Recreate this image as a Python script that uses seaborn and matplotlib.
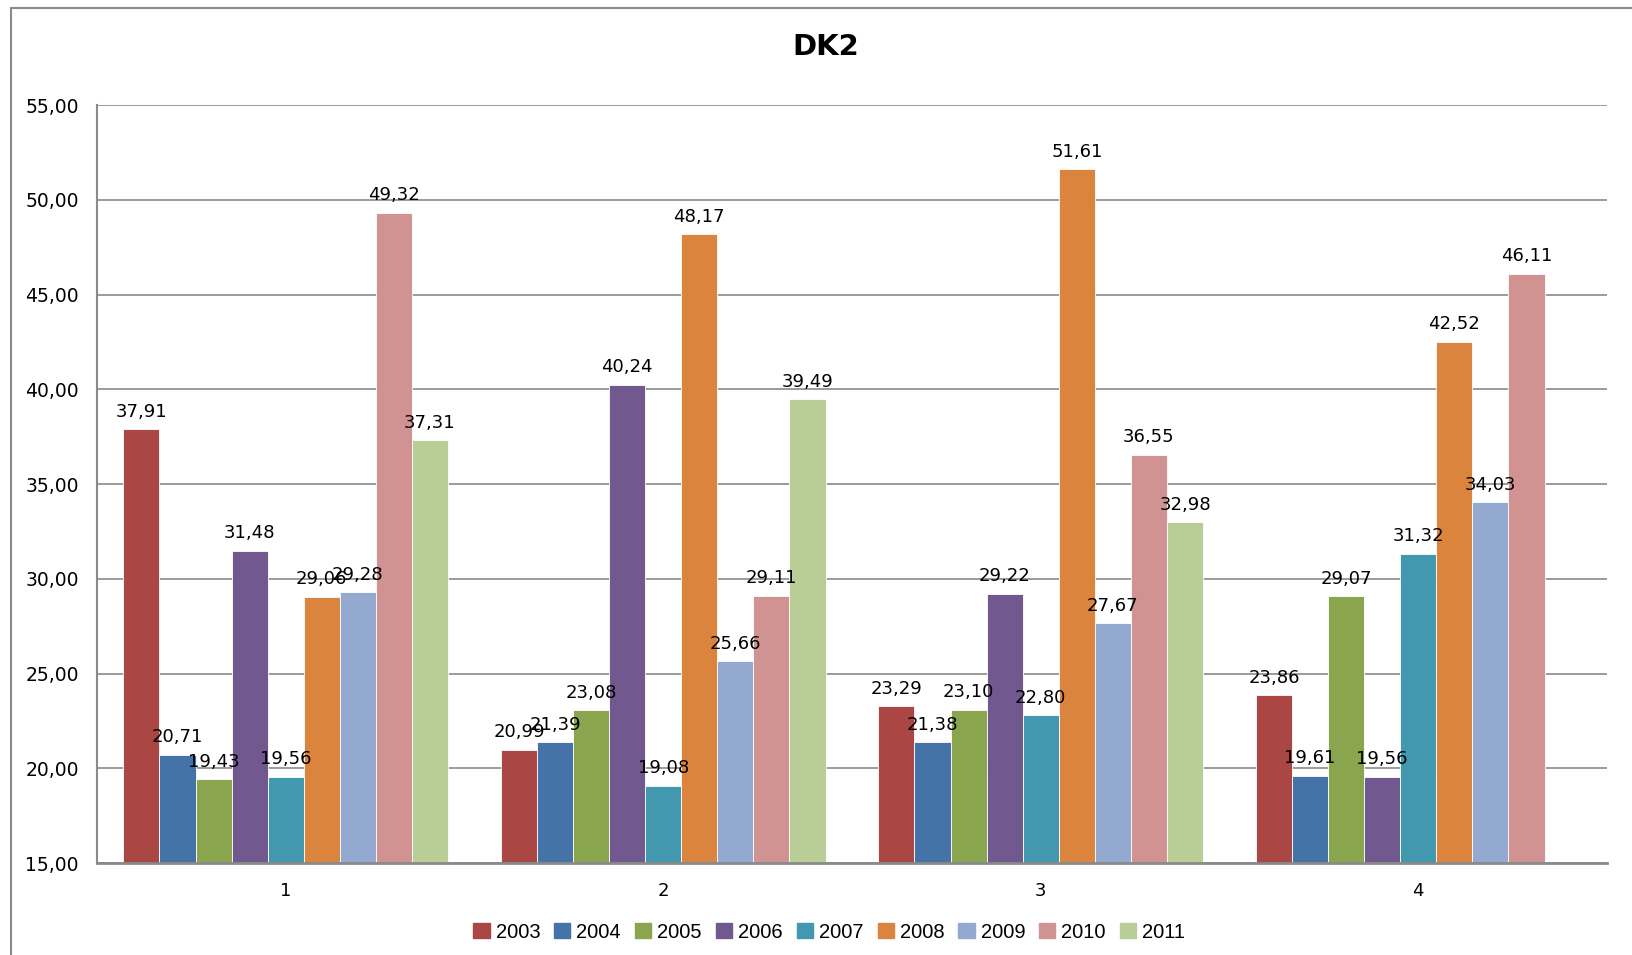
import numpy as np
import pandas as pd
import seaborn as sns
import matplotlib
matplotlib.use("Agg")
import matplotlib.pyplot as plt
from matplotlib.lines import Line2D

# Quarterly values per year
categories = ["1", "2", "3", "4"]
years = ["2003", "2004", "2005", "2006", "2007", "2008", "2009", "2010", "2011"]
values = {
    "2003": [37.91, 20.99, 23.29, 23.86],
    "2004": [20.71, 21.39, 21.38, 19.61],
    "2005": [19.43, 23.08, 23.10, 29.07],
    "2006": [31.48, 40.24, 29.22, 19.56],
    "2007": [19.56, 19.08, 22.80, 31.32],
    "2008": [29.06, 48.17, 51.61, 42.52],
    "2009": [29.28, 25.66, 27.67, 34.03],
    "2010": [49.32, 29.11, 36.55, 46.11],
    "2011": [37.31, 39.49, 32.98, np.nan],
}
colors = ["#AA4643", "#4572A7", "#89A54E", "#71588F", "#4198AF",
          "#DB843D", "#93A9CF", "#D19392", "#B9CD96"]
y_ticks = [15, 20, 25, 30, 35, 40, 45, 50, 55]

rows = []
for y in years:
    for c, v in zip(categories, values[y]):
        rows.append({"cat": c, "year": y, "val": v})
df = pd.DataFrame(rows)

sns.set_theme(style="white")
plt.rcParams["font.family"] = ["DejaVu Sans"]
plt.rcParams["text.color"] = "black"
plt.rcParams["xtick.color"] = "black"
plt.rcParams["ytick.color"] = "black"

fig = plt.figure(figsize=(16.32, 9.55), dpi=100)
ax = fig.add_axes([0.0594, 0.0963, 0.9253, 0.7937])

sns.barplot(data=df, x="cat", y="val", hue="year", hue_order=years,
            order=categories, palette=colors, width=0.86, saturation=1,
            edgecolor="white", linewidth=0.6, ax=ax, legend=False,
            errorbar=None)

ax.set_ylim(15, 55)
ax.set_yticks(y_ticks)
ax.set_yticklabels([f"{t:.2f}".replace(".", ",") for t in y_ticks], fontsize=13.5)
ax.tick_params(axis="x", labelsize=13, pad=14, length=0)
ax.tick_params(axis="y", pad=13, length=0)
ax.set_xlabel("")
ax.set_ylabel("")
ax.yaxis.grid(True, color="#8a8a8a", linewidth=1.2)
ax.set_axisbelow(True)
for s in ["top", "right"]:
    ax.spines[s].set_visible(False)
ax.spines["left"].set_color("#8a8a8a")
ax.spines["left"].set_linewidth(1.5)
ax.spines["bottom"].set_color("#8a8a8a")
ax.spines["bottom"].set_linewidth(2)

# value labels above each bar
for cont, y in zip(ax.containers, years):
    for bar, v in zip(cont, values[y]):
        if bar is None or np.isnan(v):
            continue
        ax.annotate(f"{v:.2f}".replace(".", ","),
                    (bar.get_x() + bar.get_width() / 2, bar.get_height()),
                    xytext=(0, 6), textcoords="offset points",
                    ha="center", va="bottom", fontsize=13, color="black")

handles = [plt.Rectangle((0, 0), 1, 1, color=c) for c in colors]
ax.legend(handles, years, loc="center", bbox_to_anchor=(0.485, -0.091),
          ncol=9, frameon=False, handlelength=0.8, handleheight=0.8,
          handletextpad=0.3, columnspacing=0.7,
          prop={"family": "Liberation Sans", "size": 14.5})

fig.text(0.506, 0.951, "DK2", ha="center", va="center", fontsize=21,
         fontweight="bold", color="black")

# chart frame (left and top edges)
fig.add_artist(Line2D([0.0065, 0.0065], [0.0, 0.9915], transform=fig.transFigure,
                      color="#8a8a8a", linewidth=1.5))
fig.add_artist(Line2D([0.0065, 1.0], [0.9915, 0.9915], transform=fig.transFigure,
                      color="#8a8a8a", linewidth=1.5))

fig.savefig("out.png", dpi=100, facecolor="white")
